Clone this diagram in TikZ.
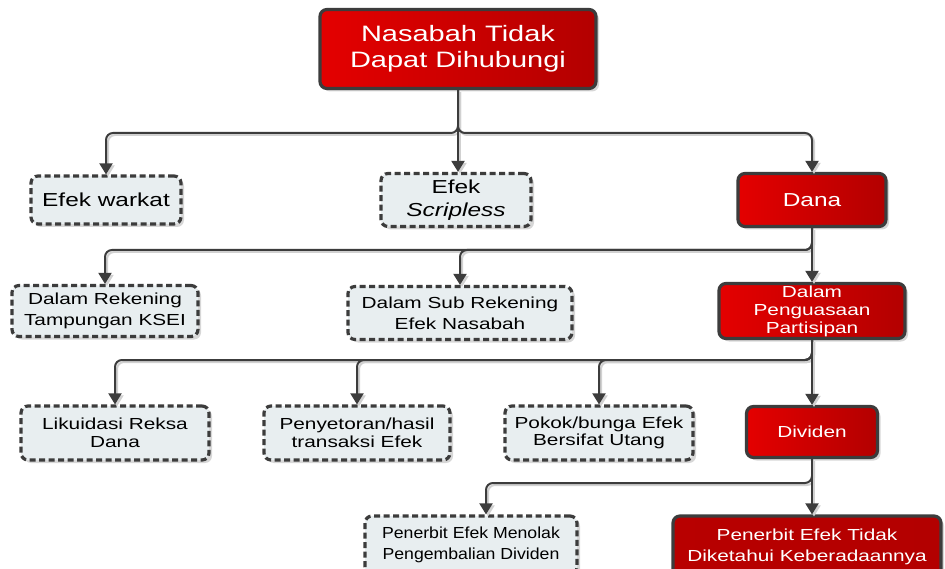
\documentclass[tikz,border=0pt]{standalone}
\usepackage{fontspec}
\setmainfont[FakeStretch=1.3]{Liberation Sans}
\usetikzlibrary{arrows.meta,shadows,calc}

\definecolor{edge}{HTML}{3C3C3C}
\definecolor{paper}{HTML}{E8EEF0}
\definecolor{redA}{HTML}{E40000}
\definecolor{redB}{HTML}{B30000}

\tikzset{
  box/.style={rounded corners=7pt, line width=3.2pt, draw=edge, align=center, inner sep=0pt,
    drop shadow={shadow xshift=3pt, shadow yshift=-3pt, fill=black!22, opacity=0.7}},
  redbox/.style={box, left color=redA, right color=redB, text=white},
  dashbox/.style={box, fill=paper, dash pattern=on 6pt off 3.5pt, text=black},
  tip/.style={-{Triangle[width=13pt,length=11pt]}},
  conn/.style={draw=edge, line width=2pt, rounded corners=7pt, tip,
    preaction={draw=black!18, line width=2pt, tip, transform canvas={shift={(2pt,-2pt)}}}},
  big/.style={font=\fontsize{22.3}{26}\selectfont},
  mid/.style={font=\fontsize{18.8}{23}\selectfont},
  small/.style={font=\fontsize{16}{21}\selectfont},
  tight/.style={font=\fontsize{16}{17.5}\selectfont},
}
% narrower set text block
\newcommand{\narrowtext}[2]{\scalebox{#1}[1]{\begin{tabular}{@{}c@{}}#2\end{tabular}}}

\begin{document}
\begin{tikzpicture}[x=1pt,y=-1pt]
  \useasboundingbox (0,0) rectangle (945,569);
  \fill[white] (0,0) rectangle (945,569);
  \clip (0,0) rectangle (945,569);

  % root
  \node[redbox, big, minimum width=276pt, minimum height=79pt] (top) at (458,49) {Nasabah Tidak\\Dapat Dihubungi\rule[-3pt]{0pt}{1pt}};

  % first level
  \node[dashbox, mid, minimum width=150pt, minimum height=48pt] (warkat) at (106,200) {Efek warkat};
  \node[dashbox, mid, minimum width=150pt, minimum height=53pt] (scrip) at (456,200) {Efek\\\textit{Scripless}};
  \node[redbox, mid, minimum width=148pt, minimum height=53pt] (dana) at (812,200) {Dana};

  % second level
  \node[dashbox, small, minimum width=186pt, minimum height=51pt] (rek) at (105,311) {Dalam Rekening\\Tampungan KSEI};
  \node[dashbox, small, minimum width=224pt, minimum height=53pt] (sub) at (460,313) {Dalam Sub Rekening\\Efek Nasabah};
  \node[redbox, font=\fontsize{16}{18}\selectfont, minimum width=186pt, minimum height=55pt] (pengu) at (812,311) {Dalam\\Penguasaan\\Partisipan};

  % third level
  \node[dashbox, tight, minimum width=188pt, minimum height=54pt] (likui) at (115,433) {Likuidasi Reksa\\Dana};
  \node[dashbox, tight, minimum width=186pt, minimum height=54pt] (penye) at (357,433) {Penyetoran/hasil\\transaksi Efek};
  \node[dashbox, tight, minimum width=188pt, minimum height=54pt] (pokok) at (599,433) {Pokok/bunga Efek\\Bersifat Utang};
  \node[redbox, small, minimum width=131pt, minimum height=51pt] (divid) at (812,432) {Dividen};

  % fourth level
  \node[dashbox, small, minimum width=212pt, minimum height=58pt] (menolak) at (471,545) {\narrowtext{0.85}{Penerbit Efek Menolak\\Pengembalian Dividen}};
  \node[redbox, small, minimum width=268pt, minimum height=62pt, left color=redB!90!redA, right color=redB] (tidak) at (807,547) {Penerbit Efek Tidak\\Diketahui Keberadaannya};

  % branch points
  \coordinate (j1) at (458,133);
  \coordinate (j2) at (812,250);
  \coordinate (j3) at (812,360);
  \coordinate (j4) at (812,483);

  % connectors
  \draw[conn] (top.south) -- (j1) -| (warkat.north);
  \draw[conn] (top.south) -- (top.south |- scrip.north);
  \draw[conn] (top.south) -- (j1) -| (dana.north);

  \draw[conn] (dana.south) -- (j2) -| (rek.north);
  \draw[conn] (dana.south) -- (j2) -| (sub.north);
  \draw[conn] (dana.south) -- (pengu.north);

  \draw[conn] (pengu.south) -- (j3) -| (likui.north);
  \draw[conn] (pengu.south) -- (j3) -| (penye.north);
  \draw[conn] (pengu.south) -- (j3) -| (pokok.north);
  \draw[conn] (pengu.south) -- (divid.north);

  \draw[conn] (divid.south) -- (j4) -| ($(menolak.north)+(15,0)$);
  \draw[conn] (divid.south) -- (divid.south |- tidak.north);
\end{tikzpicture}
\end{document}
